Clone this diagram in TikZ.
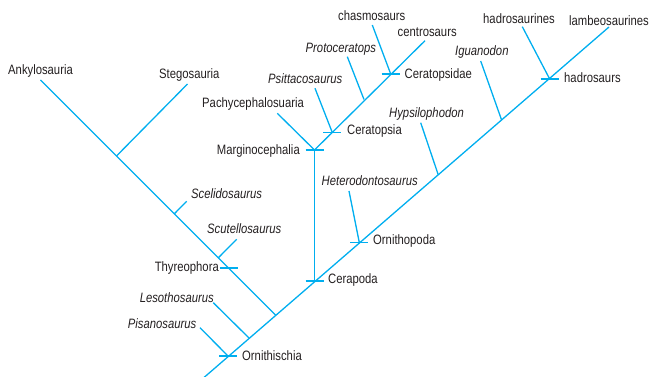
\documentclass[tikz,border=0pt]{standalone}
\usepackage{fontspec}
\setmainfont{Liberation Sans}[FakeStretch=0.83]
\definecolor{clade}{RGB}{0,174,239}
\definecolor{txt}{RGB}{35,31,32}
\begin{document}
\begin{tikzpicture}[x=1pt,y=-1pt,
  br/.style={draw=clade,line width=1.3pt},
  lab/.style={text=txt,inner sep=0pt,font=\fontsize{13.6}{15}\selectfont},
  gen/.style={lab,font=\fontsize{13.6}{15}\selectfont\itshape}]
\useasboundingbox (0,0) rectangle (649,377);
\clip (0,0) rectangle (649,377);
% main ornithischian stem
\coordinate (root) at (204,377.5);
\coordinate (orn) at (228,356);
\coordinate (thyJ) at (275.5,315);
\coordinate (lesJ) at (249,338);
\coordinate (cer) at (314.5,281);
\coordinate (ornp) at (359.3,242.5);
\coordinate (hypJ) at (438.3,175);
\coordinate (iguJ) at (501.7,120.3);
\coordinate (had) at (549.7,79);
\coordinate (lambT) at (609,27);
% thyreophoran branch
\coordinate (ankT) at (40.5,80);
\coordinate (stegJ) at (116.5,156);
\coordinate (stegT) at (187.5,84);
\coordinate (scelJ) at (174.3,213.8);
\coordinate (scelT) at (186.7,201.3);
\coordinate (scutJ) at (218.3,257.8);
\coordinate (scutT) at (236.7,239.3);
\coordinate (thy) at (228.5,268);
\coordinate (lesT) at (213.3,302.7);
\coordinate (pisT) at (200,327.7);
% marginocephalians
\coordinate (marg) at (314.5,150);
\coordinate (pachT) at (277.3,113.3);
\coordinate (cera) at (332.3,132.5);
\coordinate (psitT) at (315,88.3);
\coordinate (protJ) at (364,99.5);
\coordinate (protT) at (347.3,56.7);
\coordinate (ceratd) at (390.7,74);
\coordinate (chasT) at (372.3,25);
\coordinate (centT) at (425,40.7);
% ornithopods
\coordinate (hetT) at (349,191);
\coordinate (hypT) at (420.7,122.7);
\coordinate (iguT) at (480.7,61);
\coordinate (hadrT) at (522.3,26.7);

% branches
\draw[br] (root) -- (lambT);
\draw[br] (ankT) -- (thyJ);
\draw[br] (stegT) -- (stegJ);
\draw[br] (scelT) -- (scelJ);
\draw[br] (scutT) -- (scutJ);
\draw[br] (lesT) -- (lesJ);
\draw[br] (pisT) -- (orn);
\draw[br] (cer) -- (marg);
\draw[br] (pachT) -- (marg);
\draw[br] (marg) -- (centT);
\draw[br] (psitT) -- (cera);
\draw[br] (protT) -- (protJ);
\draw[br] (chasT) -- (ceratd);
\draw[br] (hetT) -- (ornp);
\draw[br] (hypT) -- (hypJ);
\draw[br] (iguT) -- (iguJ);
\draw[br] (hadrT) -- (had);
% node ticks
\foreach \n in {orn,thy,cer,ornp,marg,cera,ceratd,had}
  \draw[br] ([xshift=-9pt]\n) -- ([xshift=9pt]\n);

% labels
\node[lab,anchor=base west] (lAnk) at (8,74.5) {Ankylosauria};
\node[lab,anchor=base west] (lSteg) at (159,78.5) {Stegosauria};
\node[gen,anchor=base west] (lScel) at (191,199) {Scelidosaurus};
\node[gen,anchor=base west] (lScut) at (207,234) {Scutellosaurus};
\node[lab,anchor=base east] (lThy) at (219,272) {Thyreophora};
\node[gen,anchor=base east] (lLes) at (214,302) {Lesothosaurus};
\node[gen,anchor=base east] (lPis) at (196.5,328) {Pisanosaurus};
\node[lab,anchor=base west] (lOrn) at (242,360) {Ornithischia};
\node[lab,anchor=base west] (lCer) at (328,284) {Cerapoda};
\node[lab,anchor=base west] (lOrnp) at (373,245) {Ornithopoda};
\node[lab,anchor=base east] (lMarg) at (300,155) {Marginocephalia};
\node[lab,anchor=base west] (lPach) at (202,108) {Pachycephalosuaria};
\node[gen,anchor=base west] (lPsit) at (268,83.5) {Psittacosaurus};
\node[gen,anchor=base west] (lProt) at (305.5,52.5) {Protoceratops};
\node[lab,anchor=base west] (lChas) at (338,20.5) {chasmosaurs};
\node[lab,anchor=base west] (lCent) at (397.5,37) {centrosaurs};
\node[lab,anchor=base west] (lCeratd) at (404.5,78.5) {Ceratopsidae};
\node[lab,anchor=base west] (lCera) at (347,134.5) {Ceratopsia};
\node[gen,anchor=base west] (lHet) at (321.5,186) {Heterodontosaurus};
\node[gen,anchor=base west] (lHyp) at (389,117.5) {Hypsilophodon};
\node[gen,anchor=base west] (lIgu) at (455,55.5) {Iguanodon};
\node[lab,anchor=base west] (lHadr) at (483,23.5) {hadrosaurines};
\node[lab,anchor=base west] (lLamb) at (569,25.5) {lambeosaurines};
\node[lab,anchor=base west] (lHad) at (564,82.5) {hadrosaurs};
\end{tikzpicture}
\end{document}
